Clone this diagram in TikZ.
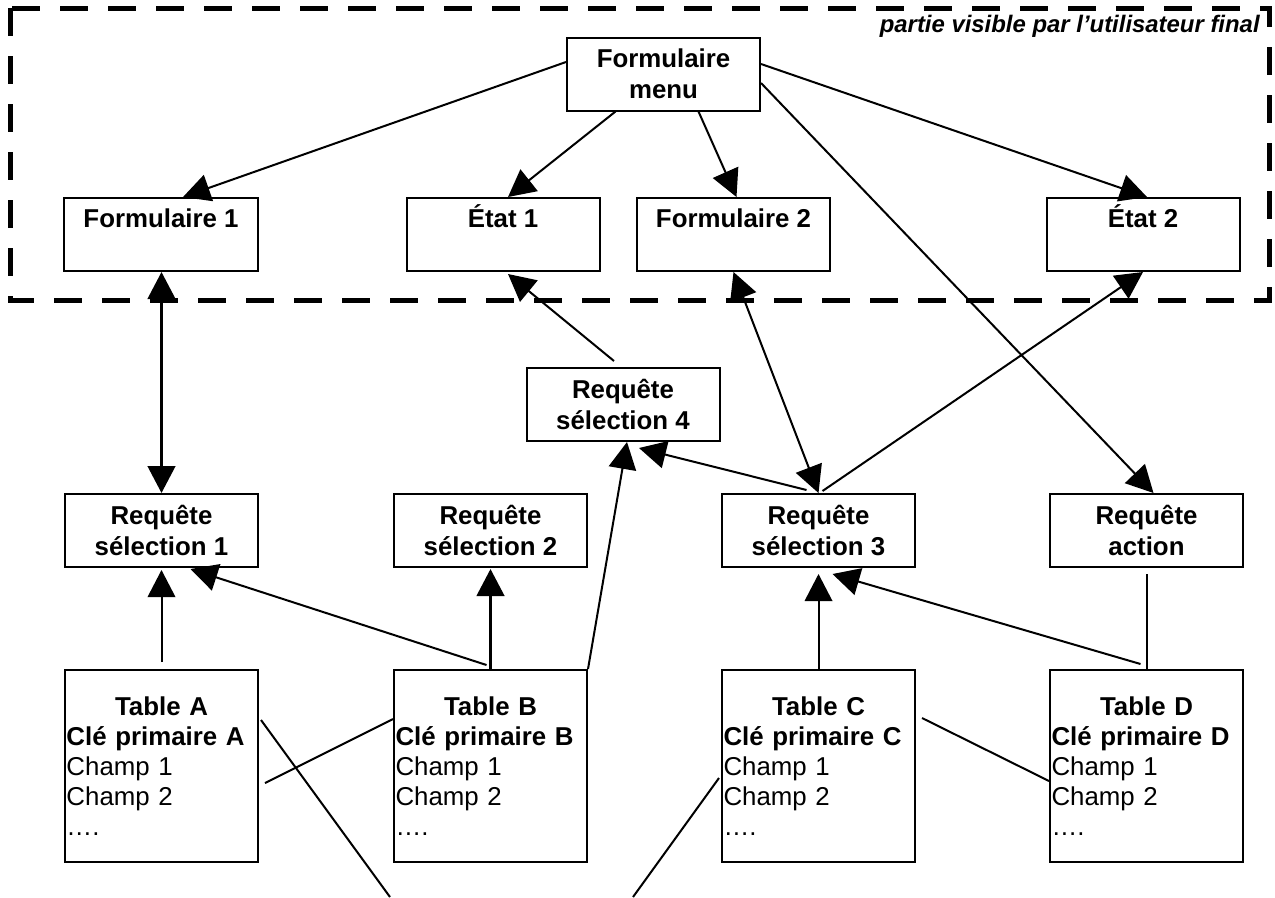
\documentclass[tikz,border=0pt]{standalone}
\usepackage{fontspec}
\setmainfont{Liberation Sans}
\usetikzlibrary{arrows.meta,calc}
\begin{document}
\begin{tikzpicture}[x=0.2mm,y=-0.2mm,
  >={Triangle[length=5.4mm,width=5.5mm]},
  boxfont/.style={font=\bfseries\fontsize{14.7}{17.6}\selectfont},
  box/.style={draw,line width=0.4mm,fill=white,minimum width=38.6mm,minimum height=14.6mm,inner sep=0pt,align=center,boxfont},
  topbox/.style={draw,line width=0.4mm,fill=white,minimum width=38.6mm,inner sep=0pt,text height=5.8mm,text depth=8.8mm,boxfont},
  tbl/.style={draw,line width=0.4mm,fill=white,minimum width=38.6mm,minimum height=38.4mm,inner xsep=0.3mm,inner ysep=0pt,text width=38.0mm,font=\fontsize{14.7}{17}\selectfont},
  conn/.style={line width=0.4mm},
  arr/.style={conn,->},
  thk/.style={line width=0.6mm},
  caption/.style={font=\bfseries\itshape\fontsize{13.6}{16}\selectfont}
]
\useasboundingbox (0,0) rectangle (1275,897);
\fill[white] (0,0) rectangle (1275,897);

% dashed frame: part visible to the end user
\draw[line width=1mm,dash pattern=on 5.6mm off 4mm] (10,8) rectangle (1269,300);
\node[caption,anchor=base east,inner sep=0pt] (cap) at (1260,32) {partie visible par l’utilisateur final};

% nodes
\node[box] (m) at (663.5,74) {Formulaire\\menu};
\node[topbox] (f1) at (161,234.5) {Formulaire 1};
\node[topbox] (e1) at (503,234.5) {État 1};
\node[topbox] (f2) at (733.5,234.5) {Formulaire 2};
\node[topbox] (e2) at (1143,234.5) {État 2};
\node[box] (r4) at (623,404.5) {Requête\\sélection 4};
\node[box] (r1) at (161.5,530.5) {Requête\\sélection 1};
\node[box] (r2) at (490.5,530.5) {Requête\\sélection 2};
\node[box] (r3) at (818.5,530.5) {Requête\\sélection 3};
\node[box] (ra) at (1146.5,530.5) {Requête\\action};

\node[tbl] (tA) at (161.5,766) {\parindent=0pt{\centering\bfseries Table A\par}\raggedright\textbf{Clé primaire A}\\Champ 1\\Champ 2\\….};
\node[tbl] (tB) at (490.5,766) {\parindent=0pt{\centering\bfseries Table B\par}\raggedright\textbf{Clé primaire B}\\Champ 1\\Champ 2\\….};
\node[tbl] (tC) at (818.5,766) {\parindent=0pt{\centering\bfseries Table C\par}\raggedright\textbf{Clé primaire C}\\Champ 1\\Champ 2\\….};
\node[tbl] (tD) at (1146.5,766) {\parindent=0pt{\centering\bfseries Table D\par}\raggedright\textbf{Clé primaire D}\\Champ 1\\Champ 2\\….};

% connectors from the menu
\draw[arr] ($(m.west)+(0,-12)$) -- ($(f1.north)+(22,0)$);
\draw[arr] ($(m.south)+(-48,0)$) -- ($(e1.north)+(5,0)$);
\draw[arr] ($(m.south)+(35,0)$) -- ($(f2.north)+(3,0)$);
\draw[arr] ($(m.east)+(0,-10)$) -- ($(e2.north)+(4,0)$);
\draw[arr] ($(m.east)+(0,9)$) -- ($(ra.north)+(7,0)$);

% forms / reports and queries
\draw[thk,<->] ($(f1.south)+(0.5,0)$) -- (r1.north);
\draw[arr] ($(r4.north)+(-9,-6)$) -- ($(e1.south)+(5,2)$);
\draw[conn,<->] (f2.south) -- (r3.north);
\draw[arr] ($(r3.north)+(-12,-3)$) -- ($(r4.south)+(16,6)$);
\draw[arr] ($(r3.north)+(4,-2)$) -- (e2.south);

% tables to queries
\draw[arr] ($(tA.north)+(0,-7)$) -- ($(r1.south)+(0,2)$);
\draw[arr] ($(tB.north)+(-4,-4)$) -- ($(r1.south)+(29,1)$);
\draw[thk,->] (tB.north) -- ($(r2.south)+(0,1)$);
\draw[arr] (tB.north east) -- ($(r4.south)+(4,0)$);
\draw[arr] (tC.north) -- ($(r3.south)+(0,6)$);
\draw[arr] ($(tD.north)+(-6,-5)$) -- ($(r3.south)+(14,6)$);
\draw[conn] (tD.north) -- ($(ra.south)+(0,6)$);

% relations between tables
\coordinate (bAB) at (390,897);
\coordinate (bC) at (633,897);
\draw[conn] ($(tA.east)+(2,-46)$) -- (bAB);
\draw[conn] ($(tB.west)+(0,-47)$) -- ($(tA.east)+(6,17)$);
\draw[conn] ($(tC.west)+(-2,12)$) -- (bC);
\draw[conn] ($(tC.east)+(6,-48)$) -- ($(tD.west)+(0,15)$);
\end{tikzpicture}
\end{document}
